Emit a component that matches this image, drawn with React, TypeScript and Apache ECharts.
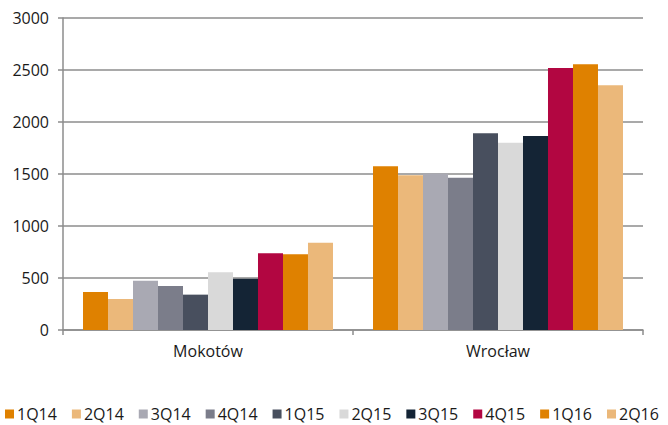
import React, { useEffect, useRef } from "react";
import * as echarts from "echarts";

const categories = ["Mokotów", "Wrocław"];
const seriesNames = ["1Q14", "2Q14", "3Q14", "4Q14", "1Q15", "2Q15", "3Q15", "4Q15", "1Q16", "2Q16"];
const mokotow = [365, 298, 474, 423, 340, 555, 493, 737, 728, 840];
const wroclaw = [1574, 1487, 1506, 1465, 1891, 1801, 1865, 2519, 2555, 2353];
const colors = ["#DF8100", "#EBB87A", "#A9A9B3", "#7B7D8A", "#484F5E", "#D9D9D9", "#142435", "#B20641", "#DF8100", "#EBB87A"];
const yTicks = [0, 500, 1000, 1500, 2000, 2500, 3000];

export default function App() {
  const ref = useRef<HTMLDivElement>(null);
  useEffect(() => {
    if (!ref.current) return;
    const chart = echarts.init(ref.current, null, { renderer: "svg" });
    const font = "'Open Sans', sans-serif";
    chart.setOption({
      animation: false,
      textStyle: { fontFamily: font },
      grid: { left: 63, right: 25, top: 18, bottom: 95, containLabel: false },
      legend: {
        bottom: -2,
        left: 0,
        itemWidth: 9,
        itemHeight: 9,
        itemGap: 15,
        icon: "rect",
        data: seriesNames,
        textStyle: { fontSize: 16, color: "#1a1a1a", fontFamily: font, width: 42, padding: [0, 0, 0, -2] },
      },
      xAxis: {
        type: "category",
        data: categories,
        axisLine: { lineStyle: { color: "#8C8C8C", width: 1.5 } },
        axisTick: { show: true, length: 5, lineStyle: { color: "#8C8C8C", width: 1.5 } },
        axisLabel: { fontSize: 16, color: "#1a1a1a", margin: 13, fontFamily: font },
      },
      yAxis: {
        type: "value",
        min: 0,
        max: 3000,
        interval: 500,
        axisLine: { show: true, lineStyle: { color: "#8C8C8C", width: 1.5 } },
        axisTick: { show: true, length: 5, lineStyle: { color: "#8C8C8C", width: 1.5 } },
        splitLine: { lineStyle: { color: "#8C8C8C", width: 1.5 } },
        axisLabel: {
          fontSize: 16,
          color: "#1a1a1a",
          margin: 14,
          fontFamily: font,
          formatter: (v: number) => (yTicks.includes(v) ? String(v) : ""),
        },
      },
      series: seriesNames.map((name, i) => ({
        name,
        type: "bar",
        data: [mokotow[i], wroclaw[i]],
        itemStyle: { color: colors[i] },
        barGap: "0%",
        barCategoryGap: "13.8%",
      })),
    });
    return () => chart.dispose();
  }, []);
  return <div ref={ref} style={{ width: 668, height: 425, position: "absolute", left: 0, top: 0 }} />;
}
